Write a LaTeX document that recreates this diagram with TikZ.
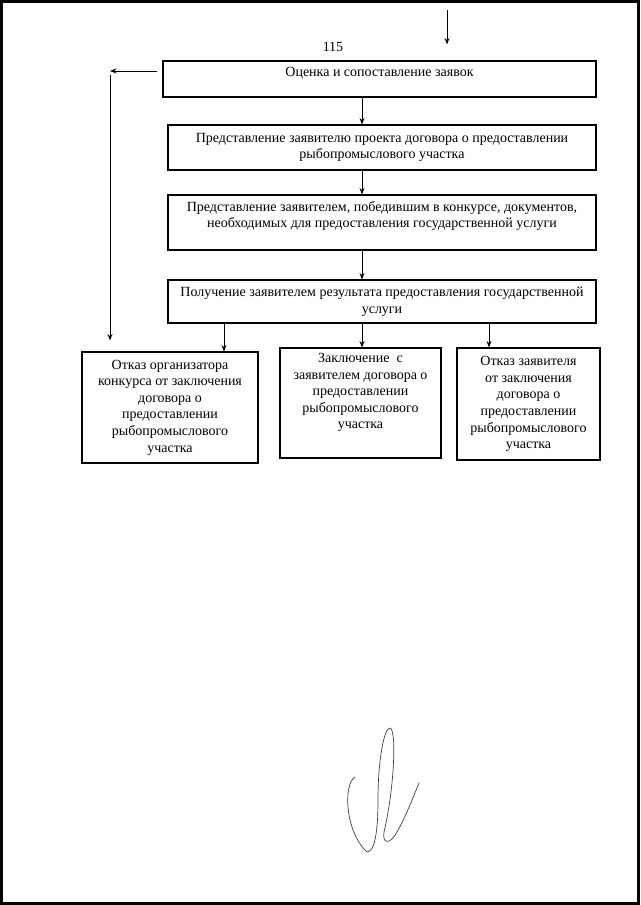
\documentclass[tikz,border=0pt]{standalone}
\usepackage{fontspec}
\setmainfont{Liberation Serif}
\usetikzlibrary{arrows.meta,positioning,calc}

\begin{document}
\begin{tikzpicture}[x=1pt, y=-1pt,
    stage/.style={draw, line width=1.1pt, minimum width=428pt, align=center, inner sep=2pt, font=\fontsize{14}{16.8}\selectfont},
    result/.style={draw, line width=1.1pt, align=center, inner sep=2pt, font=\fontsize{14}{16.6}\selectfont},
    arr/.style={-{Stealth[length=6.5pt, width=5pt]}, line width=0.9pt},
]
\useasboundingbox (0,0) rectangle (640,905);
% edge of the scanned sheet
\draw[line width=3pt] (1.5,1.5) rectangle (638.5,903.5);

% page number
\node[font=\fontsize{14}{16}\selectfont] (pnum) at (333,47) {115};

% main chain of stages
\node[stage, minimum width=433pt, minimum height=36pt, text depth=14pt] (eval) at (379.5,79) {Оценка и сопоставление заявок};
\node[stage, minimum height=45pt] (draft) at (382,147.5) {Представление заявителю проекта договора о предоставлении\\рыбопромыслового участка};
\node[stage, minimum height=55pt, text depth=16pt] (docs) at (382,222.5) {Представление заявителем, победившим в конкурсе, документов,\\необходимых для предоставления государственной услуги};
\node[stage, minimum height=43pt] (result) at (382,301.5) {Получение заявителем результата предоставления государственной\\услуги};

% three outcomes
\node[result, minimum width=176pt, minimum height=111pt] (refA) at (170,407.5) {Отказ организатора\\конкурса от заключения\\договора о\\предоставлении\\рыбопромыслового\\участка};
\node[result, minimum width=161pt, minimum height=110pt, text depth=24pt] (sign) at (360.5,403) {Заключение \ с\\заявителем договора о\\предоставлении\\рыбопромыслового\\участка};
\node[result, minimum width=143pt, minimum height=112pt] (refB) at (528.5,404) {Отказ заявителя\\от заключения\\договора о\\предоставлении\\рыбопромыслового\\участка};

% helper points
\coordinate (ax) at (362,0);
\coordinate (in) at (447,10);
\coordinate (turn) at (110,71);

% arrows
\draw[arr, shorten >=16pt] (in) -- (eval.north -| in);
\draw[arr] (eval.south -| ax) -- (draft.north -| ax);
\draw[arr] (draft.south -| ax) -- (docs.north -| ax);
\draw[arr] (docs.south -| ax) -- (result.north -| ax);
\draw[arr, shorten <=5pt] (eval.west |- turn) -- (turn);
\draw[arr, shorten >=11pt] ([yshift=-4pt]turn) -- (refA.north -| turn);
\draw[arr] (result.south -| 224,0) -- (refA.north -| 224,0);
\draw[arr] (result.south -| ax) -- (sign.north -| ax);
\draw[arr] (result.south -| 489,0) -- (refB.north -| 489,0);

% signature
\draw[line width=0.7pt, black!75, line cap=round]
    (355,777) .. controls (343,784) and (345,832) .. (367,852)
    .. controls (375,852) and (378,830) .. (378,800)
    .. controls (378,760) and (384,728) .. (390,728)
    .. controls (397,730) and (394,790) .. (384,832)
    .. controls (382,844) and (390,845) .. (397,832)
    .. controls (405,818) and (412,800) .. (419,783);
\end{tikzpicture}
\end{document}
